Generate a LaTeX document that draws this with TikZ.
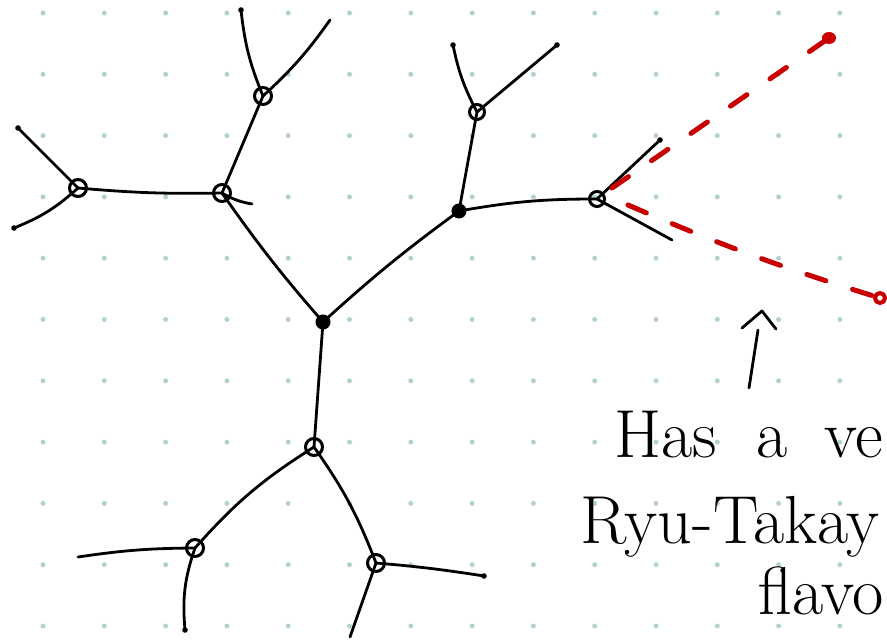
\documentclass[tikz,border=0pt]{standalone}
\usetikzlibrary{arrows.meta}
\definecolor{griddot}{RGB}{178,210,210}
\definecolor{inkred}{RGB}{200,0,0}
\tikzset{
  vtx/.style={circle,draw=black,line width=3pt,inner sep=0pt,minimum size=17pt},
  edge/.style={line width=2.8pt,line cap=round,black},
  reddash/.style={line width=5pt,line cap=round,inkred,dash pattern=on 20pt off 28pt},
  hand/.style={font=\fontsize{68}{72}\selectfont,anchor=base west,inner sep=0pt}
}
\begin{document}
\begin{tikzpicture}[x=1pt,y=-1pt]
\useasboundingbox (0,0) rectangle (887,640);
\fill[white] (0,0) rectangle (887,640);
\foreach \i in {0,...,14}{\foreach \j in {0,...,10}{
  \fill[griddot] ({43+61.3*\i},{13+61.3*\j}) circle (2.5pt);}}
% vertices
\node[vtx] (A) at (78,188) {};
\node[vtx] (B) at (222,193) {};
\node[vtx] (C) at (263,96) {};
\node[vtx,fill=black,minimum size=12pt] (D) at (323,322) {};
\node[vtx,fill=black,minimum size=12pt] (E) at (459,211) {};
\node[vtx,minimum size=15pt] (F) at (477,112) {};
\node[vtx,minimum size=15pt] (G) at (597,199) {};
\node[vtx] (H) at (314,447) {};
\node[vtx] (I) at (195,548) {};
\node[vtx] (J) at (376,563) {};
% leaf ends
\coordinate (a1) at (18,128);
\coordinate (a2) at (14,228);
\coordinate (b1) at (252,204);
\coordinate (c1) at (241,10);
\coordinate (c2) at (330,20);
\coordinate (f1) at (453,45);
\coordinate (f2) at (557,45);
\coordinate (g1) at (660,140);
\coordinate (g2) at (672,240);
\coordinate (i1) at (78,557);
\coordinate (i2) at (185,630);
\coordinate (j1) at (484,576);
\coordinate (j2) at (350,637);
% internal edges
\draw[edge] (A.center) to[bend right=3] (B.center);
\draw[edge] (B.center) -- (C.center);
\draw[edge] (B.center) to[bend right=3] (D.center);
\draw[edge] (D.center) to[bend left=3] (E.center);
\draw[edge] (E.center) -- (F.center);
\draw[edge] (E.center) to[bend left=5] (G.center);
\draw[edge] (D.center) -- (H.center);
\draw[edge] (H.center) to[bend right=8] (I.center);
\draw[edge] (H.center) to[bend left=7] (J.center);
% leaf edges
\draw[edge] (A.center) -- (a1);
\draw[edge] (A.center) to[bend left=10] (a2);
\draw[edge] (B.center) to[bend right=10] (b1);
\draw[edge] (C.center) to[bend left=8] (c1);
\draw[edge] (C.center) to[bend right=6] (c2);
\draw[edge] (F.center) to[bend left=8] (f1);
\draw[edge] (F.center) -- (f2);
\draw[edge] (G.center) -- (g1);
\draw[edge] (G.center) -- (g2);
\draw[edge] (I.center) to[bend right=4] (i1);
\draw[edge] (I.center) to[bend right=12] (i2);
\draw[edge] (J.center) to[bend left=2] (j1);
\draw[edge] (J.center) -- (j2);
\foreach \p in {a1,a2,c1,f1,f2,g1,i2,j1} \fill (\p) circle (2.8pt);
% red dashed lines
\coordinate (r1) at (829,38);
\coordinate (r2) at (880,298);
\coordinate (gu) at (612,188);
\coordinate (gd) at (628,205);
\draw[reddash] (gu) -- (r1);
\draw[reddash] (gd) to[bend right=3] (r2);
\fill[inkred] (r1) ellipse (7pt and 6pt);
\draw[inkred,line width=4pt] (r2) circle (5pt);
% arrow
\coordinate (t0) at (749,388);
\coordinate (t1) at (758,330);
\coordinate (h0) at (742,328);
\coordinate (h1) at (762,311);
\coordinate (h2) at (776,329);
\draw[edge] (t0) -- (t1);
\draw[edge,line join=round] (h0) -- (h1) -- (h2);
% text
\node[hand] (L1) at (614,457) {Has\hspace{40pt}a\hspace{36pt}ve};
\node[hand] (L2) at (580,543) {Ryu-Takay};
\node[hand] (L3) at (758,614) {flavo};
\end{tikzpicture}
\end{document}
